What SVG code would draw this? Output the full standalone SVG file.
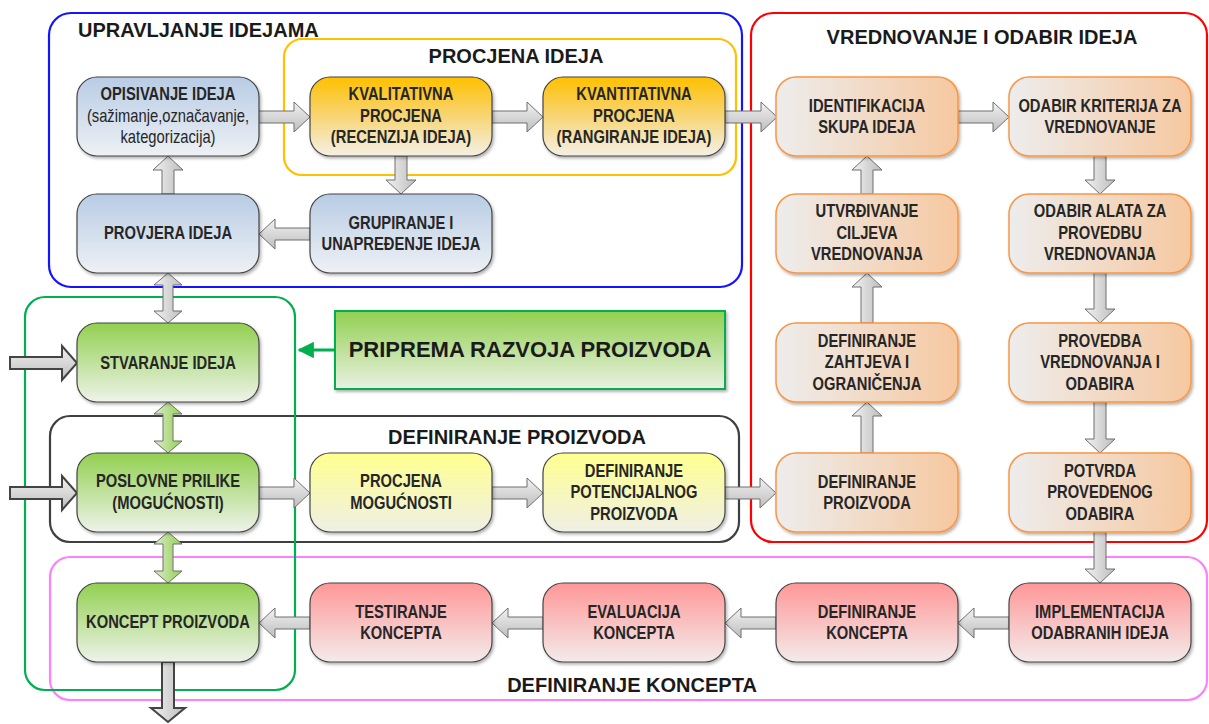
<svg xmlns="http://www.w3.org/2000/svg" width="1209" height="724" viewBox="0 0 1209 724">
<defs>
<style>
.cont{fill:none;stroke-width:2.2}
.title{font-family:"Liberation Sans",Arial,sans-serif;font-weight:bold;font-size:20px;fill:#1a1a1a}
.node rect{stroke:#454545;stroke-width:1.2;filter:url(#sh)}
.nt{font-family:"Liberation Sans",Arial,sans-serif;font-weight:bold;font-size:18px;fill:#262626;text-anchor:middle}
.nr{font-weight:normal}
.ah{fill:url(#gh);stroke:#6e6e6e;stroke-width:1}
.av{fill:url(#gv);stroke:#6e6e6e;stroke-width:1}
.ag{fill:url(#gg);stroke:#6e6e6e;stroke-width:1}
.ain{fill:url(#gh);stroke:#444;stroke-width:2}
.aout{fill:url(#gv);stroke:#444;stroke-width:2}
</style>
<filter id="sh" x="-10%" y="-10%" width="125%" height="130%">
<feDropShadow dx="1.5" dy="2" stdDeviation="1.5" flood-color="#000" flood-opacity="0.3"/>
</filter>
<linearGradient id="gBlue" x1="0" y1="0" x2="0" y2="1"><stop offset="0" stop-color="#b8cce4"/><stop offset="1" stop-color="#eef1f5"/></linearGradient>
<linearGradient id="gYel" x1="0" y1="0" x2="0" y2="1"><stop offset="0" stop-color="#ffc000"/><stop offset="0.45" stop-color="#f8d36a"/><stop offset="1" stop-color="#f4f0e6"/></linearGradient>
<linearGradient id="gLYel" x1="0" y1="0" x2="0" y2="1"><stop offset="0" stop-color="#ffff8f"/><stop offset="1" stop-color="#efefe6"/></linearGradient>
<linearGradient id="gGreen" x1="0" y1="0" x2="0" y2="1"><stop offset="0" stop-color="#92d050"/><stop offset="1" stop-color="#eef3ea"/></linearGradient>
<linearGradient id="gRed" x1="0" y1="0" x2="0" y2="1"><stop offset="0" stop-color="#ff9797"/><stop offset="1" stop-color="#f3ebeb"/></linearGradient>
<linearGradient id="gOr" x1="0" y1="0" x2="1" y2="0"><stop offset="0" stop-color="#ededed"/><stop offset="1" stop-color="#f6c8a0"/></linearGradient>
<linearGradient id="gPrip" x1="0" y1="0" x2="0" y2="1"><stop offset="0" stop-color="#92d050"/><stop offset="1" stop-color="#e9f1e2"/></linearGradient>
<linearGradient id="gh" x1="0" y1="0" x2="0" y2="1"><stop offset="0" stop-color="#f2f2f2"/><stop offset="1" stop-color="#bdbdbd"/></linearGradient>
<linearGradient id="gv" x1="0" y1="0" x2="1" y2="0"><stop offset="0" stop-color="#f2f2f2"/><stop offset="1" stop-color="#bdbdbd"/></linearGradient>
<linearGradient id="gg" x1="0" y1="0" x2="1" y2="0"><stop offset="0" stop-color="#dcebcb"/><stop offset="1" stop-color="#92d050"/></linearGradient>
<marker id="mg" viewBox="0 0 10 10" refX="9" refY="5" markerWidth="5.5" markerHeight="5.5" orient="auto"><path d="M0,0 L10,5 L0,10 z" fill="#00b050"/></marker>
</defs>
<rect width="1209" height="724" fill="#ffffff"/>

<g id="containers">
<rect class="cont" x="49" y="13" width="693" height="274" rx="22" stroke="#1414ff"/>
<rect class="cont" x="284" y="39" width="452" height="136" rx="18" stroke="#ffc000"/>
<rect class="cont" x="751" y="13" width="456" height="529" rx="22" stroke="#ff0000"/>
<rect class="cont" x="50" y="557" width="1157" height="143" rx="20" stroke="#ff80ff"/>
<rect class="cont" x="50" y="416" width="689" height="126" rx="20" stroke="#404040"/>
<rect class="cont" x="25" y="297" width="270" height="393" rx="20" stroke="#00b050"/>
<text class="title" x="78" y="37">UPRAVLJANJE IDEJAMA</text>
<text class="title" x="516" y="63" text-anchor="middle">PROCJENA IDEJA</text>
<text class="title" x="982" y="44" text-anchor="middle">VREDNOVANJE I ODABIR IDEJA</text>
<text class="title" x="517" y="444" text-anchor="middle">DEFINIRANJE PROIZVODA</text>
<text class="title" x="632" y="692" text-anchor="middle">DEFINIRANJE KONCEPTA</text>
</g>

<g id="connectors">
<polygon class="ah" points="258,111 294,111 294,102 310,117 294,132 294,123 258,123"/>
<polygon class="ah" points="492,111 527,111 527,102 543,117 527,132 527,123 492,123"/>
<polygon class="ah" points="725,111 761,111 761,102 777,117 761,132 761,123 725,123"/>
<polygon class="ah" points="958,111 993,111 993,102 1009,117 993,132 993,123 958,123"/>
<polygon class="ah" points="310,228 275,228 275,219 259,234 275,249 275,240 310,240"/>
<polygon class="ah" points="1009,617 974,617 974,608 958,623 974,638 974,629 1009,629"/>
<polygon class="ah" points="776,617 741,617 741,608 725,623 741,638 741,629 776,629"/>
<polygon class="ah" points="543,617 508,617 508,608 492,623 508,638 508,629 543,629"/>
<polygon class="ah" points="310,617 275,617 275,608 259,623 275,638 275,629 310,629"/>
<polygon class="ah" points="259,487 294,487 294,478 310,493 294,508 294,499 259,499"/>
<polygon class="ah" points="492,487 527,487 527,478 543,493 527,508 527,499 492,499"/>
<polygon class="ah" points="725,487 760,487 760,478 776,493 760,508 760,499 725,499"/>
<polygon class="ain" points="10,357 62,357 62,346 77,363 62,380 62,369 10,369"/>
<polygon class="ain" points="10,487 62,487 62,476 77,493 62,510 62,499 10,499"/>
<polygon class="av" points="395,156 395,180 386,180 401,194 416,180 407,180 407,156"/>
<polygon class="av" points="1094,156 1094,180 1085,180 1100,194 1115,180 1106,180 1106,156"/>
<polygon class="av" points="1094,273 1094,309 1085,309 1100,323 1115,309 1106,309 1106,273"/>
<polygon class="av" points="1094,402 1094,439 1085,439 1100,453 1115,439 1106,439 1106,402"/>
<polygon class="av" points="1094,532 1094,569 1085,569 1100,583 1115,569 1106,569 1106,532"/>
<polygon class="av" points="162,194 162,170 153,170 168,156 183,170 174,170 174,194"/>
<polygon class="av" points="861,194 861,170 852,170 867,156 882,170 873,170 873,194"/>
<polygon class="av" points="861,323 861,287 852,287 867,273 882,287 873,287 873,323"/>
<polygon class="av" points="861,453 861,416 852,416 867,402 882,416 873,416 873,453"/>
<polygon class="av" points="168,273 182,285 173,285 173,311 182,311 168,323 154,311 163,311 163,285 154,285"/>
<polygon class="ag" points="168,402 182,414 173,414 173,441 182,441 168,453 154,441 163,441 163,414 154,414"/>
<polygon class="ag" points="168,532 182,544 173,544 173,571 182,571 168,583 154,571 163,571 163,544 154,544"/>
<polygon class="aout" points="162,662 162,708 151,708 168,722 185,708 174,708 174,662"/>
<line x1="335" y1="350" x2="299" y2="350" stroke="#00b050" stroke-width="3" marker-end="url(#mg)"/>
</g>

<g id="n-opisivanje" class="node"><rect x="77" y="77" width="182" height="79" rx="20" fill="url(#gBlue)"/>
<g transform="matrix(0.82 0 0 1 168 0)"><text class="nt" y="100.5">OPISIVANJE IDEJA</text><text class="nt nr" y="122">(sažimanje,označavanje,</text><text class="nt nr" y="143.5">kategorizacija)</text></g></g>
<g id="n-kvalitativna" class="node"><rect x="310" y="77" width="182" height="79" rx="20" fill="url(#gYel)"/>
<g transform="matrix(0.82 0 0 1 401 0)"><text class="nt" y="100.5">KVALITATIVNA</text><text class="nt" y="122">PROCJENA</text><text class="nt" y="143.5">(RECENZIJA IDEJA)</text></g></g>
<g id="n-kvantitativna" class="node"><rect x="543" y="77" width="182" height="79" rx="20" fill="url(#gYel)"/>
<g transform="matrix(0.82 0 0 1 634 0)"><text class="nt" y="100.5">KVANTITATIVNA</text><text class="nt" y="122">PROCJENA</text><text class="nt" y="143.5">(RANGIRANJE IDEJA)</text></g></g>
<g id="n-identifikacija" class="node"><rect x="776" y="77" width="182" height="79" rx="20" fill="url(#gOr)" style="stroke:#f79646;stroke-width:1.5"/>
<g transform="matrix(0.82 0 0 1 867 0)"><text class="nt" y="112">IDENTIFIKACIJA</text><text class="nt" y="133.5">SKUPA IDEJA</text></g></g>
<g id="n-kriteriji" class="node"><rect x="1009" y="77" width="182" height="79" rx="20" fill="url(#gOr)" style="stroke:#f79646;stroke-width:1.5"/>
<g transform="matrix(0.82 0 0 1 1100 0)"><text class="nt" y="112">ODABIR KRITERIJA ZA</text><text class="nt" y="133.5">VREDNOVANJE</text></g></g>

<g id="n-provjera" class="node"><rect x="77" y="194" width="182" height="79" rx="20" fill="url(#gBlue)"/>
<g transform="matrix(0.82 0 0 1 168 0)"><text class="nt" y="239.5">PROVJERA IDEJA</text></g></g>
<g id="n-grupiranje" class="node"><rect x="310" y="194" width="182" height="79" rx="20" fill="url(#gBlue)"/>
<g transform="matrix(0.82 0 0 1 401 0)"><text class="nt" y="229">GRUPIRANJE I</text><text class="nt" y="250.5">UNAPREĐENJE IDEJA</text></g></g>
<g id="n-ciljevi" class="node"><rect x="776" y="194" width="182" height="79" rx="20" fill="url(#gOr)" style="stroke:#f79646;stroke-width:1.5"/>
<g transform="matrix(0.82 0 0 1 867 0)"><text class="nt" y="217.5">UTVRĐIVANJE</text><text class="nt" y="239">CILJEVA</text><text class="nt" y="260.5">VREDNOVANJA</text></g></g>
<g id="n-alati" class="node"><rect x="1009" y="194" width="182" height="79" rx="20" fill="url(#gOr)" style="stroke:#f79646;stroke-width:1.5"/>
<g transform="matrix(0.82 0 0 1 1100 0)"><text class="nt" y="217.5">ODABIR ALATA ZA</text><text class="nt" y="239">PROVEDBU</text><text class="nt" y="260.5">VREDNOVANJA</text></g></g>

<g id="n-stvaranje" class="node"><rect x="77" y="323" width="182" height="79" rx="20" fill="url(#gGreen)"/>
<g transform="matrix(0.82 0 0 1 168 0)"><text class="nt" y="369">STVARANJE IDEJA</text></g></g>
<g id="n-priprema"><rect x="335" y="311" width="390" height="78" fill="url(#gPrip)" stroke="#00b050" stroke-width="2" filter="url(#sh)"/>
<text x="530" y="357" text-anchor="middle" style="font-family:'Liberation Sans',Arial,sans-serif;font-weight:bold;font-size:22px;fill:#1a1a1a">PRIPREMA RAZVOJA PROIZVODA</text></g>
<g id="n-zahtjevi" class="node"><rect x="776" y="323" width="182" height="79" rx="20" fill="url(#gOr)" style="stroke:#f79646;stroke-width:1.5"/>
<g transform="matrix(0.82 0 0 1 867 0)"><text class="nt" y="347">DEFINIRANJE</text><text class="nt" y="368.5">ZAHTJEVA I</text><text class="nt" y="390">OGRANIČENJA</text></g></g>
<g id="n-provedba" class="node"><rect x="1009" y="323" width="182" height="79" rx="20" fill="url(#gOr)" style="stroke:#f79646;stroke-width:1.5"/>
<g transform="matrix(0.82 0 0 1 1100 0)"><text class="nt" y="347">PROVEDBA</text><text class="nt" y="368.5">VREDNOVANJA I</text><text class="nt" y="390">ODABIRA</text></g></g>

<g id="n-poslovne" class="node"><rect x="77" y="453" width="182" height="79" rx="20" fill="url(#gGreen)"/>
<g transform="matrix(0.82 0 0 1 168 0)"><text class="nt" y="487.5">POSLOVNE PRILIKE</text><text class="nt" y="509">(MOGUĆNOSTI)</text></g></g>
<g id="n-procjena-mog" class="node"><rect x="310" y="453" width="182" height="79" rx="20" fill="url(#gLYel)"/>
<g transform="matrix(0.82 0 0 1 401 0)"><text class="nt" y="487.5">PROCJENA</text><text class="nt" y="509">MOGUĆNOSTI</text></g></g>
<g id="n-potencijalni" class="node"><rect x="543" y="453" width="182" height="79" rx="20" fill="url(#gLYel)"/>
<g transform="matrix(0.82 0 0 1 634 0)"><text class="nt" y="477">DEFINIRANJE</text><text class="nt" y="498.5">POTENCIJALNOG</text><text class="nt" y="520">PROIZVODA</text></g></g>
<g id="n-def-proizvoda" class="node"><rect x="776" y="453" width="182" height="79" rx="20" fill="url(#gOr)" style="stroke:#f79646;stroke-width:1.5"/>
<g transform="matrix(0.82 0 0 1 867 0)"><text class="nt" y="488">DEFINIRANJE</text><text class="nt" y="509.5">PROIZVODA</text></g></g>
<g id="n-potvrda" class="node"><rect x="1009" y="453" width="182" height="79" rx="20" fill="url(#gOr)" style="stroke:#f79646;stroke-width:1.5"/>
<g transform="matrix(0.82 0 0 1 1100 0)"><text class="nt" y="477">POTVRDA</text><text class="nt" y="498.5">PROVEDENOG</text><text class="nt" y="520">ODABIRA</text></g></g>

<g id="n-koncept-proizvoda" class="node"><rect x="77" y="583" width="182" height="79" rx="20" fill="url(#gGreen)"/>
<g transform="matrix(0.82 0 0 1 168 0)"><text class="nt" y="628.5">KONCEPT PROIZVODA</text></g></g>
<g id="n-testiranje" class="node"><rect x="310" y="583" width="182" height="79" rx="20" fill="url(#gRed)"/>
<g transform="matrix(0.82 0 0 1 401 0)"><text class="nt" y="618">TESTIRANJE</text><text class="nt" y="639.5">KONCEPTA</text></g></g>
<g id="n-evaluacija" class="node"><rect x="543" y="583" width="182" height="79" rx="20" fill="url(#gRed)"/>
<g transform="matrix(0.82 0 0 1 634 0)"><text class="nt" y="618">EVALUACIJA</text><text class="nt" y="639.5">KONCEPTA</text></g></g>
<g id="n-def-koncepta" class="node"><rect x="776" y="583" width="182" height="79" rx="20" fill="url(#gRed)"/>
<g transform="matrix(0.82 0 0 1 867 0)"><text class="nt" y="618">DEFINIRANJE</text><text class="nt" y="639.5">KONCEPTA</text></g></g>
<g id="n-implementacija" class="node"><rect x="1009" y="583" width="182" height="79" rx="20" fill="url(#gRed)"/>
<g transform="matrix(0.82 0 0 1 1100 0)"><text class="nt" y="618">IMPLEMENTACIJA</text><text class="nt" y="639.5">ODABRANIH IDEJA</text></g></g>
</svg>
